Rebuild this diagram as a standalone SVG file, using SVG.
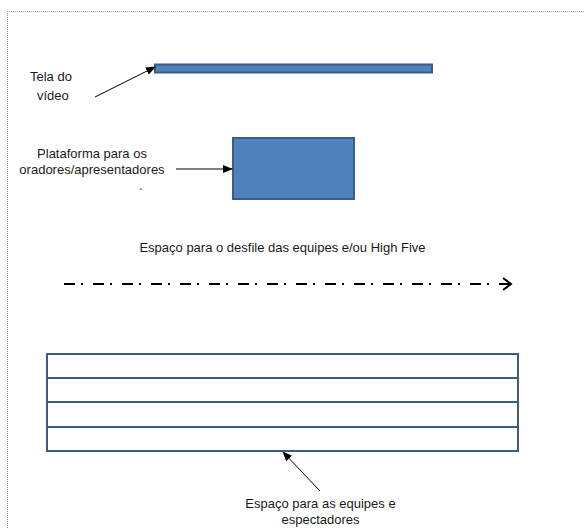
<svg xmlns="http://www.w3.org/2000/svg" width="586" height="528" viewBox="0 0 586 528">
<defs>
<style>
.t{font-family:"Liberation Sans",Arial,sans-serif;font-size:13px;fill:#1a1a1a}
.shape{fill:#4F81BD;stroke:#385D8A;stroke-width:2}
.conn{stroke:#000;stroke-width:1;fill:none}
</style>
<marker id="ah" markerWidth="10" markerHeight="8" refX="9" refY="4" orient="auto" markerUnits="userSpaceOnUse">
<path d="M0,0 L10,4 L0,8 Z" fill="#000"/>
</marker>
<marker id="open" markerWidth="12" markerHeight="14" refX="10" refY="7" orient="auto" markerUnits="userSpaceOnUse">
<path d="M2,1 L10,7 L2,13" fill="none" stroke="#000" stroke-width="2"/>
</marker>
</defs>
<rect width="586" height="528" fill="#fff"/>
<path d="M7.5,528 V11.5 H585" fill="none" stroke="#999" stroke-width="1" stroke-dasharray="1 1"/>

<g id="tela">
<rect class="shape" x="155" y="64.5" width="277" height="8"/>
<text class="t" x="30" y="81">Tela do</text>
<text class="t" x="37" y="100">vídeo</text>
</g>

<g id="plataforma">
<rect class="shape" x="233" y="138" width="121" height="61"/>
<text class="t" x="92" y="158" text-anchor="middle">Plataforma para os</text>
<text class="t" x="92" y="174" text-anchor="middle">oradores/apresentadores</text>
<text class="t" x="139" y="190">.</text>
</g>

<g id="desfile">
<text class="t" x="282.5" y="252" text-anchor="middle">Espaço para o desfile das equipes e/ou High Five</text>
</g>

<g id="arquibancada">
<rect x="47" y="354" width="471" height="97" fill="#fff" stroke="#385D8A" stroke-width="2"/>
<line x1="47" y1="378" x2="518" y2="378" stroke="#385D8A" stroke-width="2"/>
<line x1="47" y1="402" x2="518" y2="402" stroke="#385D8A" stroke-width="2"/>
<line x1="47" y1="427" x2="518" y2="427" stroke="#385D8A" stroke-width="2"/>
<text class="t" x="320.5" y="508" text-anchor="middle">Espaço para as equipes e</text>
<text class="t" x="320.5" y="524" text-anchor="middle">espectadores</text>
</g>

<g id="connectors">
<line class="conn" x1="95" y1="97" x2="155" y2="67" marker-end="url(#ah)"/>
<line class="conn" x1="176" y1="169" x2="232" y2="169" marker-end="url(#ah)"/>
<line class="conn" x1="320" y1="491" x2="283" y2="452" marker-end="url(#ah)"/>
<line x1="64" y1="284" x2="511" y2="284" stroke="#000" stroke-width="2" stroke-dasharray="11 6 2 10" marker-end="url(#open)"/>
</g>
</svg>
